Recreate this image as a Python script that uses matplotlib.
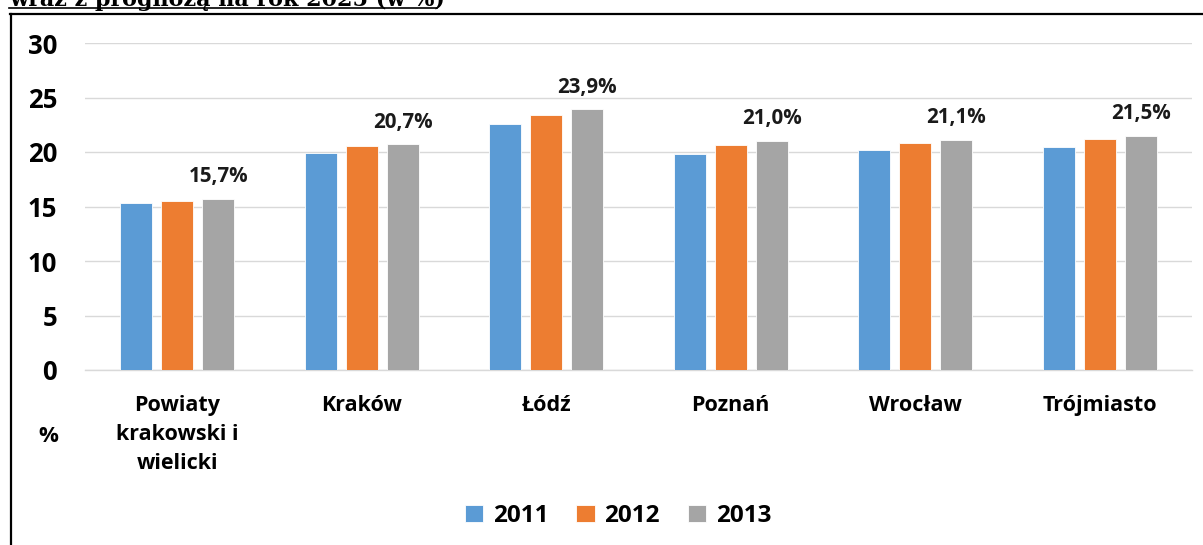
import matplotlib
matplotlib.use("Agg")
import matplotlib.pyplot as plt
import numpy as np
from matplotlib.lines import Line2D

categories = ["Powiaty\nkrakowski i\nwielicki", "Kraków", "Łódź", "Poznań", "Wrocław", "Trójmiasto"]
years = ["2011", "2012", "2013"]
v2011 = [15.3, 19.9, 22.6, 19.8, 20.15, 20.5]
v2012 = [15.55, 20.55, 23.4, 20.6, 20.8, 21.15]
v2013 = [15.7, 20.7, 23.9, 21.0, 21.1, 21.5]
labels2013 = ["15,7%", "20,7%", "23,9%", "21,0%", "21,1%", "21,5%"]
yticks = [0, 5, 10, 15, 20, 25, 30]
title = "wraz z prognozą na rok 2025 (w %)"

colors = ["#5B9BD5", "#ED7D31", "#A5A5A5"]
FONT = ["Open Sans", "DejaVu Sans"]

W, H = 1203, 545
fig = plt.figure(figsize=(W / 100, H / 100), dpi=100)
ax = fig.add_axes([85 / W, 1 - 370 / H, (1192 - 85) / W, (370 - 43) / H])

x = np.arange(len(categories))
off = 0.222
bw = 0.173
series = [v2011, v2012, v2013]
for i, (vals, c, yr) in enumerate(zip(series, colors, years)):
    ax.bar(x + (i - 1) * off, vals, width=bw, color=c, label=yr, zorder=3,
           edgecolor="white", linewidth=0.6)

for xi, v, lab in zip(x, v2013, labels2013):
    ax.annotate(lab, (xi + off, v), xytext=(0, 8.5), textcoords="offset points",
                ha="center", va="bottom", fontsize=14.8, fontweight="bold",
                family=FONT, color="#1a1a1a")

ax.set_xlim(-0.5, len(categories) - 0.5)
ax.set_ylim(0, 30)
ax.set_yticks(yticks)
ax.set_yticklabels([str(t) for t in yticks], fontsize=18.5, fontweight="bold", family=FONT)
ax.set_xticks(x)
ax.set_xticklabels(categories, fontsize=15.5, fontweight="bold", family=FONT, linespacing=1.5)
ax.tick_params(axis="y", length=0, pad=20)
ax.tick_params(axis="x", length=0, pad=18)
ax.grid(axis="y", color="#D9D9D9", linewidth=1.0, zorder=0)
for s in ["top", "right", "left"]:
    ax.spines[s].set_visible(False)
ax.spines["bottom"].set_color("#D9D9D9")
ax.spines["bottom"].set_linewidth(1.0)

fig.text(48 / W, 1 - 437 / H, "%", ha="center", va="center", fontsize=16,
         fontweight="bold", family=FONT)

leg = fig.legend(loc="center", bbox_to_anchor=(618 / W, 1 - 516 / H), ncol=3,
                 frameon=False, prop={"family": FONT, "weight": "bold", "size": 17.5},
                 handlelength=0.75, handleheight=0.75, handletextpad=0.4, columnspacing=1.15)

# frame
fig.add_artist(Line2D([10.5 / W, 10.5 / W], [1 - 14 / H, -0.05], transform=fig.transFigure,
                      color="black", linewidth=1.6))
fig.add_artist(Line2D([10 / W, 1.05], [1 - 14 / H, 1 - 14 / H], transform=fig.transFigure,
                      color="black", linewidth=1.6))

# cut-off title with underline
fig.text(9 / W, 1 - 6 / H, title, ha="left", va="baseline", fontsize=16,
         fontweight="bold", family=["DejaVu Serif"], color="black")
fig.add_artist(Line2D([9 / W, 437 / W], [1 - 7.8 / H, 1 - 7.8 / H], transform=fig.transFigure,
                      color="black", linewidth=1.2))

fig.savefig("out.png", dpi=100)
